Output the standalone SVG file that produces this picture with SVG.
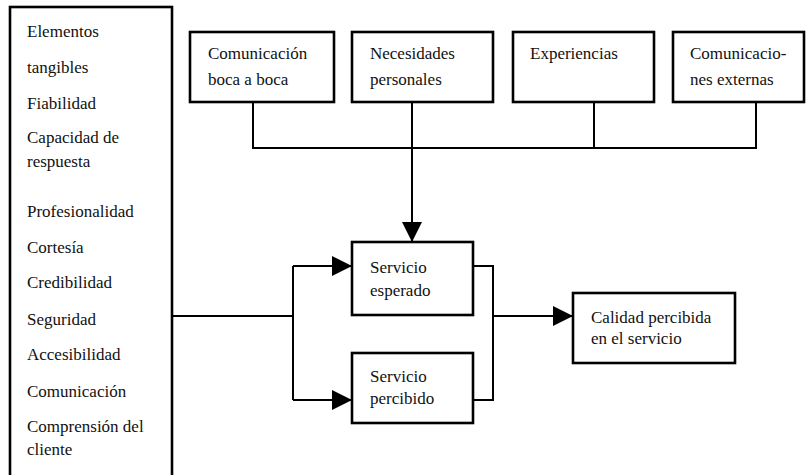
<svg xmlns="http://www.w3.org/2000/svg" width="806" height="475" viewBox="0 0 806 475">
<style>
.box{fill:#fff;stroke:#000;stroke-width:2.6}
.ln{fill:none;stroke:#000;stroke-width:2}
</style>
<defs>
<marker id="ahb" viewBox="0 0 20 20" refX="20" refY="10" markerWidth="20" markerHeight="20" orient="auto" markerUnits="userSpaceOnUse">
<path d="M0,0 L20,10 L0,20 Z" fill="#000"/>
</marker>
</defs>
<rect width="806" height="475" fill="#fff"/>
<g font-family="Liberation Serif, Times New Roman, DejaVu Serif, serif" font-size="17" fill="#111">
<g id="dimensiones">
<rect class="box" x="10" y="7" width="162" height="480"/>
<text x="27" y="37">Elementos</text>
<text x="27" y="73">tangibles</text>
<text x="27" y="109">Fiabilidad</text>
<text x="27" y="143">Capacidad de</text>
<text x="27" y="167">respuesta</text>
<text x="27" y="217">Profesionalidad</text>
<text x="27" y="253">Cortesía</text>
<text x="27" y="288">Credibilidad</text>
<text x="27" y="325">Seguridad</text>
<text x="27" y="360">Accesibilidad</text>
<text x="27" y="397">Comunicación</text>
<text x="27" y="432">Comprensión del</text>
<text x="27" y="455">cliente</text>
</g>
<g id="boca">
<rect class="box" x="190" y="32" width="144" height="70"/>
<text x="208" y="59">Comunicación</text>
<text x="208" y="85">boca a boca</text>
</g>
<g id="necesidades">
<rect class="box" x="352" y="32" width="141" height="70"/>
<text x="370" y="59">Necesidades</text>
<text x="370" y="85">personales</text>
</g>
<g id="experiencias">
<rect class="box" x="513" y="32" width="141" height="70"/>
<text x="530" y="59">Experiencias</text>
</g>
<g id="externas">
<rect class="box" x="673" y="32" width="131" height="70"/>
<text x="690" y="59">Comunicacio-</text>
<text x="690" y="85">nes externas</text>
</g>
<g id="esperado">
<rect class="box" x="352" y="242" width="121" height="73"/>
<text x="370" y="273">Servicio</text>
<text x="370" y="296">esperado</text>
</g>
<g id="percibido">
<rect class="box" x="352" y="353" width="121" height="70"/>
<text x="370" y="382">Servicio</text>
<text x="370" y="404">percibido</text>
</g>
<g id="calidad">
<rect class="box" x="573" y="293" width="162" height="70"/>
<text x="591" y="323">Calidad percibida</text>
<text x="591" y="344">en el servicio</text>
</g>
</g>
<g id="connectors">
<path class="ln" d="M253,102 V148 H756 V102"/>
<path class="ln" d="M594,102 V148"/>
<path class="ln" d="M412,102 V242" marker-end="url(#ahb)"/>
<path class="ln" d="M172,316 H293"/>
<path class="ln" d="M293,266 V400"/>
<path class="ln" d="M293,266 H352" marker-end="url(#ahb)"/>
<path class="ln" d="M293,400 H352" marker-end="url(#ahb)"/>
<path class="ln" d="M473,266 H493 V400 H473"/>
<path class="ln" d="M493,316 H573" marker-end="url(#ahb)"/>
</g>
</svg>
